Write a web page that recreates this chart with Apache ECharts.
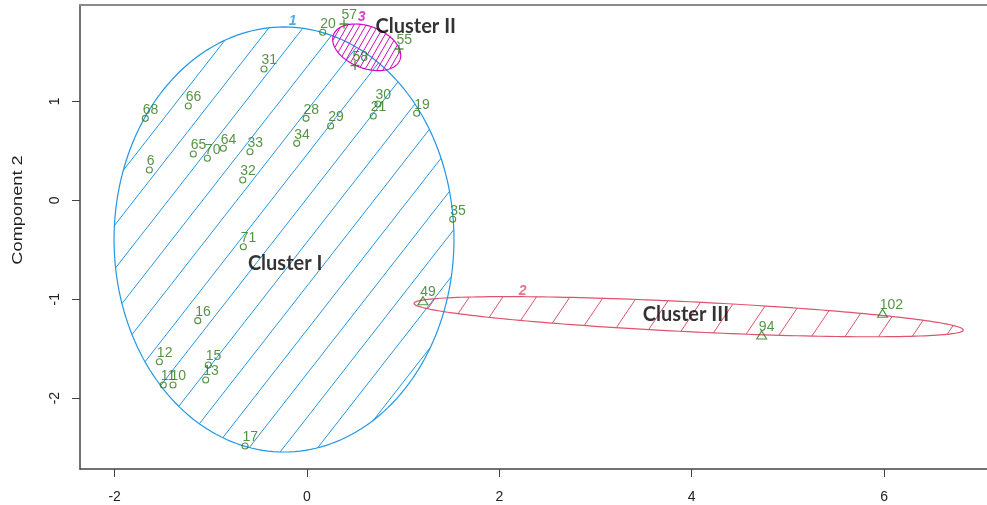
<!DOCTYPE html>
<html><head><meta charset="utf-8">
<script src="https://cdn.jsdelivr.net/npm/echarts@6/dist/echarts.min.js"></script>
<style>html,body{margin:0;padding:0;background:#fff}#c{width:987px;height:505px}</style>
</head><body><div id="c"></div><script>
// ---- data ----
const xTicks = [-2, 0, 2, 4, 6];
const yTicks = [-2, -1, 0, 1];

// Cluster 1 (circles)
const c1Labels = ['20','31','66','68','28','29','30','21','19','34','65','70','64','33','6','32','35','71','16','12','15','11','10','13','17'];
const c1X = [0.163,-0.447,-1.234,-1.681,-0.010,0.246,0.738,0.689,1.140,-0.107,-1.182,-1.036,-0.870,-0.593,-1.639,-0.668,1.515,-0.662,-1.136,-1.535,-1.026,-1.494,-1.393,-1.053,-0.644];
const c1Y = [1.699,1.328,0.953,0.829,0.829,0.751,0.974,0.852,0.880,0.576,0.468,0.425,0.526,0.491,0.306,0.205,-0.192,-0.469,-1.217,-1.632,-1.665,-1.868,-1.868,-1.817,-2.484];

// Cluster 2 (triangles)
const c2Labels = ['49','94','102'];
const c2X = [1.206, 4.727, 5.984];
const c2Y = [-1.015, -1.362, -1.143];

// Cluster 3 (plus)
const c3Labels = ['57','55','58'];
const c3X = [0.385, 0.956, 0.499];
const c3Y = [1.783, 1.530, 1.363];

// Cluster ellipses: centre and two conjugate semi-axis vectors (data units)
const ellCX = [-0.239, 3.968, 0.621];
const ellCY = [-0.396, -1.177, 1.547];
const ellUX = [1.767, 2.855, 0.3452];
const ellUY = [0, -0.135, -0.1269];
const ellVX = [0, -0.00757, -0.0771];
const ellVY = [2.149, -0.1515, -0.1987];

// Cluster numbers
const clNumText = ['1', '2', '3'];
const clNumX = [-0.149, 2.242, 0.568];
const clNumY = [1.816, -0.914, 1.850];

// Annotations
const annText = ['Cluster I', 'Cluster II', 'Cluster III'];
const annX = [-0.227, 1.131, 3.940];
const annY = [-0.637, 1.762, -1.155];

// ---- styles ----
const GREEN = '#2a7818';
const ellColors = ['#2297E6', '#DF536B', '#CD0BBC'];
const hatch = [
  {angle: 52, gap: 27, phase: 13},
  {angle: 56, gap: 27.8, phase: 27},
  {angle: 60, gap: 5.3, phase: 1}
];

function renderEllipse(params, api) {
  const i = params.dataIndex;
  const cx = api.value(0), cy = api.value(1);
  const col = ellColors[i], h = hatch[i];
  const pts = [];
  const N = 200;
  for (let k = 0; k < N; k++) {
    const t = 2 * Math.PI * k / N;
    pts.push(api.coord([
      cx + ellUX[i] * Math.cos(t) + ellVX[i] * Math.sin(t),
      cy + ellUY[i] * Math.cos(t) + ellVY[i] * Math.sin(t)
    ]));
  }
  const th = h.angle * Math.PI / 180;
  const nx = Math.sin(th), ny = Math.cos(th);
  let smin = Infinity, smax = -Infinity;
  const s = pts.map(p => { const v = p[0] * nx + p[1] * ny; if (v < smin) smin = v; if (v > smax) smax = v; return v; });
  const children = [];
  for (let k = Math.ceil((smin - h.phase) / h.gap); h.phase + k * h.gap < smax; k++) {
    const c = h.phase + k * h.gap;
    const hits = [];
    for (let j = 0; j < N; j++) {
      const j2 = (j + 1) % N;
      const sa = s[j] - c, sb = s[j2] - c;
      if ((sa <= 0 && sb > 0) || (sa > 0 && sb <= 0)) {
        const f = sa / (sa - sb);
        const a = pts[j], b = pts[j2];
        hits.push([a[0] + (b[0] - a[0]) * f, a[1] + (b[1] - a[1]) * f]);
      }
    }
    if (hits.length >= 2) {
      children.push({type: 'line', silent: true,
        shape: {x1: hits[0][0], y1: hits[0][1], x2: hits[1][0], y2: hits[1][1]},
        style: {stroke: col, lineWidth: 1}});
    }
  }
  children.push({type: 'polygon', silent: true, shape: {points: pts},
    style: {fill: 'none', stroke: col, lineWidth: 1.2}});
  return {type: 'group', children};
}

function pointSeries(labels, xs, ys, symbol, size, bw) {
  const sw = Array.isArray(size) ? size[0] : size;
  const sh = Array.isArray(size) ? size[1] : size;
  return {
    type: 'scatter', symbol, symbolSize: size, z: 5,
    data: xs.map((x, i) => [x, ys[i], labels[i]]),
    itemStyle: {color: 'none', borderColor: GREEN, borderWidth: bw},
    label: {show: true, formatter: p => p.value[2], position: [0 + sw / 2, -13 + sh / 2],
      align: 'left', verticalAlign: 'top', color: GREEN,
      fontFamily: 'Liberation Sans', fontSize: 14},
    emphasis: {disabled: true}, silent: true
  };
}

const chart = echarts.init(document.getElementById('c'), null, {renderer: 'canvas'});
chart.setOption({
  animation: false,
  backgroundColor: '#fff',
  grid: {left: 80, right: 0, top: 5, bottom: 36},
  xAxis: [{
    type: 'value', min: -2.36, max: 7.07, position: 'bottom',
    splitLine: {show: false},
    axisLine: {show: true, onZero: false, lineStyle: {color: '#444', width: 1.5}},
    axisTick: {show: true, length: 8, customValues: xTicks, lineStyle: {color: '#444'}},
    axisLabel: {customValues: xTicks, margin: 21, color: '#222', fontFamily: 'Liberation Sans', fontSize: 14}
  }, {
    type: 'value', min: -2.36, max: 7.07, position: 'top',
    splitLine: {show: false},
    axisLine: {show: true, onZero: false, lineStyle: {color: '#8a8a8a', width: 2}},
    axisTick: {show: false}, axisLabel: {show: false}
  }],
  yAxis: {
    type: 'value', min: -2.717, max: 1.975,
    splitLine: {show: false},
    axisLine: {show: true, onZero: false, lineStyle: {color: '#444', width: 1.5}},
    axisTick: {show: true, length: 8, customValues: yTicks, lineStyle: {color: '#444'}},
    axisLabel: {customValues: yTicks, rotate: 90, margin: 18, color: '#222', fontFamily: 'Liberation Sans', fontSize: 14}
  },
  graphic: [{
    type: 'text', x: 18, y: 210, rotation: Math.PI / 2, scaleX: 1.3,
    style: {text: 'Component 2', fill: '#222', font: '14px "Liberation Sans"', align: 'center', verticalAlign: 'middle'}
  }],
  series: [
    {
      type: 'custom', renderItem: renderEllipse, z: 2, silent: true,
      data: ellCX.map((x, i) => [x, ellCY[i]]),
      encode: {x: 0, y: 1}
    },
    pointSeries(c1Labels, c1X, c1Y, 'circle', 6, 1.1),
    pointSeries(c2Labels, c2X, c2Y, 'triangle', [10, 8], 1.1),
    pointSeries(c3Labels, c3X, c3Y, 'path://M0,5L10,5M5,0L5,10', 9, 1.4),
    {
      type: 'scatter', symbolSize: 0, z: 6, silent: true,
      data: clNumX.map((x, i) => ({value: [x, clNumY[i], clNumText[i]],
        label: {color: ellColors[i]}})),
      label: {show: true, position: 'inside', formatter: p => p.value[2],
        fontFamily: 'Liberation Sans', fontSize: 14, fontWeight: 'bold', fontStyle: 'italic'}
    },
    {
      type: 'scatter', symbolSize: 0, z: 7, silent: true,
      data: annX.map((x, i) => [x, annY[i], annText[i]]),
      label: {show: true, position: 'inside', formatter: p => p.value[2],
        color: '#000', fontFamily: 'Lato', fontSize: 20, fontWeight: 'bold'}
    }
  ]
});
</script></body></html>
